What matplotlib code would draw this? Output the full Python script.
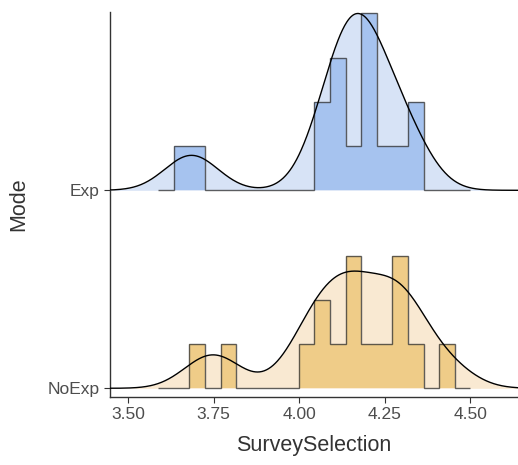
import numpy as np
import matplotlib.pyplot as plt

plt.rcParams["font.family"] = ["Liberation Sans", "DejaVu Sans"]

modes = ["NoExp", "Exp"]
# SurveySelection scores per mode, estimated from the histogram bins
exp_values = [3.67, 3.70,
              4.085, 4.088, 4.125, 4.13, 4.133, 4.165,
              4.185, 4.19, 4.19, 4.20, 4.23, 4.275, 4.32, 4.322]
noexp_values = [3.72, 3.775, 4.005, 4.05, 4.06, 4.10,
                4.145, 4.15, 4.16, 4.20, 4.26, 4.285, 4.29, 4.31, 4.345, 4.44]

# 20 histogram bins shared by both groups
bin_start = 3.588
bin_width = 0.0456
n_bins = 20
bandwidth = 0.076

fill_dens = {"Exp": "#d7e3f6", "NoExp": "#f9e9d2"}
fill_hist = {"Exp": "#a6c3ef", "NoExp": "#efcc88"}

x_ticks = [3.50, 3.75, 4.00, 4.25, 4.50]
x_lim = (3.447, 4.639)
scale = 0.893

raw = {"Exp": np.array(exp_values), "NoExp": np.array(noexp_values)}
edges = bin_start + bin_width * np.arange(n_bins + 1)
counts = {m: np.histogram(raw[m], bins=edges)[0] for m in modes}

grid = np.linspace(x_lim[0] - 0.05, x_lim[1] + 0.05, 600)
dens = {}
for m in modes:
    z = (grid[:, None] - raw[m][None, :]) / bandwidth
    dens[m] = np.exp(-0.5 * z ** 2).sum(axis=1) / (len(raw[m]) * bandwidth * np.sqrt(2 * np.pi))
dmax = max(d.max() for d in dens.values())
cmax = max(c.max() for c in counts.values())

fig = plt.figure(figsize=(5.18, 4.65), dpi=100)
ax = fig.add_axes([0.2124, 0.1462, 0.7876, 0.8278])

for i, m in enumerate(modes):
    base = i + 1
    d = base + dens[m] / dmax * scale
    ax.fill_between(grid, base, d, color=fill_dens[m], lw=0, zorder=1 + i * 3)
    h = base + counts[m] / cmax * scale
    ax.stairs(h, edges, baseline=base, fill=True, color=fill_hist[m], zorder=2 + i * 3)
    ax.stairs(h, edges, baseline=base, fill=False, color="#3a3a3a", lw=1.0,
              alpha=0.8, zorder=2.5 + i * 3)
    ax.plot(grid, d, color="black", lw=1.0, zorder=3 + i * 3)

ax.set_xlim(*x_lim)
ax.set_ylim(0.956, 2.9)
ax.set_xticks(x_ticks)
ax.set_xticklabels([f"{t:.2f}" for t in x_ticks])
ax.set_yticks([1, 2])
ax.set_yticklabels(modes)
for s in ["top", "right"]:
    ax.spines[s].set_visible(False)
for s in ["left", "bottom"]:
    ax.spines[s].set_color("#333333")
    ax.spines[s].set_linewidth(1.0)
ax.tick_params(colors="#333333", labelcolor="#4d4d4d", labelsize=12.5, length=4)
ax.set_xlabel("SurveySelection", fontsize=15.5, color="#333333", labelpad=9)
ax.set_ylabel("Mode", fontsize=15.5, color="#333333", labelpad=13)

plt.savefig("out.png")
